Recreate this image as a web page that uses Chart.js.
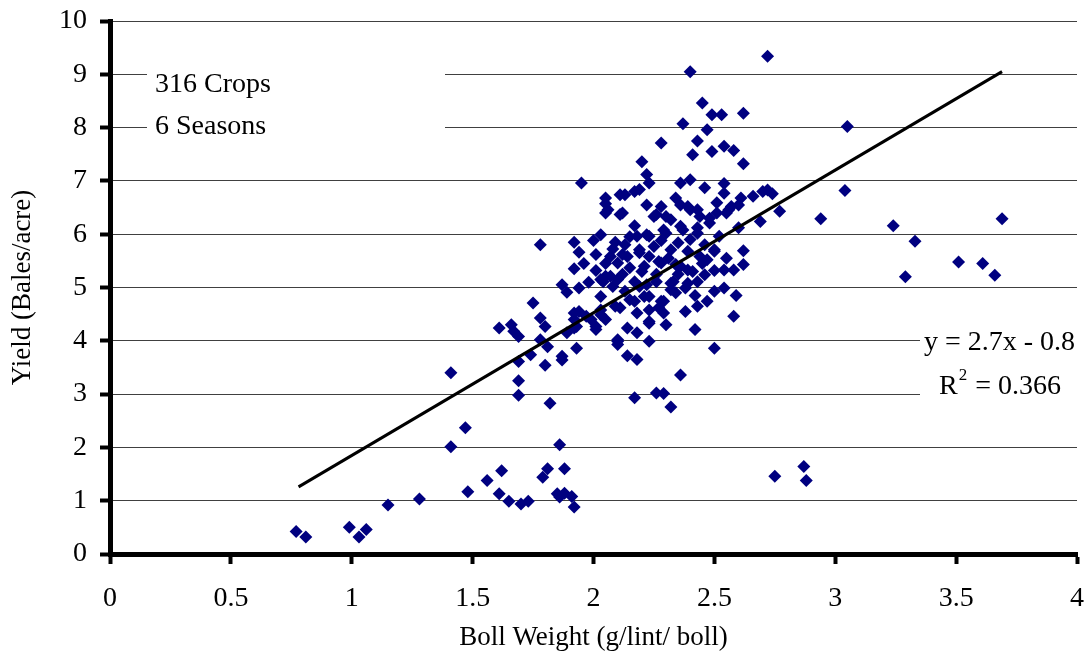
<!DOCTYPE html>
<html>
<head>
<meta charset="utf-8">
<title>Boll weight vs yield</title>
<script src="https://cdn.jsdelivr.net/npm/chart.js@4.4.1/dist/chart.umd.min.js"></script>
<style>
  html, body { margin: 0; padding: 0; background: #ffffff; }
  #wrap { width: 1091px; height: 657px; }
</style>
</head>
<body>
<div id="wrap"><canvas id="scatterChart" width="1091" height="657"></canvas></div>
<script>
// boll weight (g lint / boll) vs yield (bales / acre)
const cropPoints = [
  // low yield crops
  [0.77,0.42],[0.81,0.32],[0.99,0.50],[1.03,0.32],[1.06,0.46],[1.15,0.92],[1.28,1.03],
  [1.48,1.17],[1.56,1.38],[1.62,1.56],[1.61,1.13],[1.65,0.99],[1.70,0.94],[1.73,0.99],
  [1.79,1.44],[1.81,1.60],[1.86,2.05],[1.88,1.60],[1.85,1.13],[1.86,1.07],[1.88,1.14],
  [1.91,1.08],[1.92,0.88],[1.41,2.01],[1.47,2.37],[1.41,3.40],
  [2.75,1.46],[2.87,1.64],[2.88,1.38],
  // left side of the cloud
  [1.69,3.61],[1.69,3.25],[1.69,2.98],[1.80,3.54],[1.82,2.83],[1.87,3.64],
  [1.61,4.24],[1.66,4.30],[1.67,4.18],[1.69,4.08],[1.74,3.74],[1.78,4.02],[1.81,3.89],
  [1.75,4.71],[1.78,4.43],[1.80,4.27],[1.78,5.80],[1.87,3.71],[1.93,3.86],
  [1.87,5.05],[1.89,4.91],[1.94,4.99],[1.89,4.15],[1.93,4.27],[1.92,4.40],[1.92,4.52],
  [1.94,4.55],[1.97,4.46],[1.92,5.35],[1.96,5.45],[1.92,5.85],[1.94,5.66],[1.95,6.96],
  [2.00,5.88],[2.03,5.99],[2.01,5.32],[2.03,5.15],[2.03,4.83],[2.01,4.27],[2.03,4.58],
  [2.01,4.21],[2.03,4.49],[1.99,4.40],[1.92,4.24],[1.98,5.10],[2.01,5.62],
  // dense core
  [2.05,6.68],[2.06,6.46],[2.05,6.57],[2.11,6.74],[2.11,6.37],[2.05,6.40],
  [2.08,5.72],[2.05,5.45],[2.07,5.21],[2.05,4.40],[2.10,3.93],[2.04,5.11],[2.08,5.02],
  [2.10,5.46],[2.14,5.58],[2.13,5.80],[2.07,5.58],[2.12,5.62],[2.09,5.85],[2.15,5.95],
  [2.13,6.74],[2.17,6.80],[2.19,6.84],[2.12,6.40],[2.17,6.16],
  [2.20,7.36],[2.22,7.12],[2.23,6.96],[2.22,6.55],[2.25,6.33],[2.26,6.37],[2.28,6.52],
  [2.30,6.33],[2.32,6.27],[2.34,6.68],[2.36,6.55],[2.39,6.52],[2.40,6.46],[2.43,6.46],
  [2.44,6.33],[2.48,6.30],[2.51,6.40],[2.51,6.59],[2.55,6.40],[2.56,6.46],[2.57,6.52],
  [2.60,6.55],[2.61,6.68],[2.66,6.71],[2.70,6.80],[2.69,6.24],[2.60,6.12],
  [2.22,5.99],[2.29,6.08],[2.36,6.15],[2.43,6.12],[2.48,6.21],[2.18,5.96],[2.23,5.96],
  [2.30,6.02],[2.37,6.08],[2.43,6.02],[2.52,5.96],[2.35,5.84],[2.28,5.88],[2.40,5.90],
  [2.46,5.80],
  [2.19,5.65],[2.23,5.58],[2.19,5.71],[2.25,5.77],[2.32,5.71],[2.39,5.68],[2.44,5.58],
  [2.50,5.71],[2.50,5.68],[2.62,5.69],[2.55,5.55],[2.31,5.55],
  [2.15,5.37],[2.21,5.40],[2.27,5.49],[2.28,5.46],[2.34,5.43],[2.36,5.40],[2.39,5.33],
  [2.41,5.30],[2.46,5.24],[2.50,5.32],[2.54,5.33],[2.58,5.33],[2.62,5.43],[2.45,5.45],
  [2.47,5.52],[2.26,5.25],[2.20,5.30],[2.35,5.25],[2.12,5.25],
  [2.05,5.21],[2.10,5.15],[2.17,5.11],[2.22,5.05],[2.26,5.11],[2.32,5.08],[2.33,5.11],
  [2.39,5.08],[2.38,4.99],[2.43,5.11],[2.13,4.93],[2.19,5.02],[2.32,4.96],[2.34,4.90],
  [2.50,4.93],[2.54,4.99],[2.59,4.85],[2.42,4.85],
  [2.09,4.65],[2.11,4.62],[2.15,4.77],[2.17,4.74],[2.21,4.83],[2.23,4.83],[2.28,4.74],
  [2.29,4.74],[2.27,4.62],[2.43,4.65],[2.47,4.74],[2.38,4.55],[2.18,4.52],[2.23,4.58],
  [2.29,4.52],[2.58,4.46],
  [2.14,4.24],[2.18,4.15],[2.23,4.33],[2.23,4.36],[2.30,4.30],[2.42,4.21],
  [2.10,4.02],[2.10,3.99],[2.23,3.99],[2.14,3.72],[2.18,3.65],[2.50,3.86],[2.36,3.36],
  [2.17,2.93],[2.26,3.02],[2.29,3.01],[2.32,2.76],
  // top of the cloud
  [2.40,9.05],[2.72,9.34],[2.45,8.46],[2.49,8.24],[2.53,8.24],[2.62,8.27],[2.37,8.07],
  [2.47,7.96],[2.28,7.71],[2.43,7.75],[2.41,7.49],[2.49,7.55],[2.54,7.65],[2.58,7.57],
  [2.62,7.32],[2.36,6.96],[2.40,7.02],[2.46,6.87],[2.54,6.95],[2.54,6.77],
  // heavy bolls
  [2.72,6.83],[2.74,6.76],[2.77,6.43],[2.94,6.29],[3.04,6.82],[3.05,8.02],[3.24,6.16],
  [3.33,5.87],[3.29,5.20],[3.51,5.48],[3.61,5.45],[3.66,5.23],[3.69,6.29]
];

// linear fit y = 2.7x - 0.8, drawn over the range of the data
const trendX = [0.78, 3.69];
const trendY = [1.26, 9.05];

const noteLines = ["316 Crops", "6 Seasons"];
const fitText = "y = 2.7x - 0.8";
const r2Value = "0.366";

const FONT = "'Liberation Serif', 'Times New Roman', serif";
const MARK = "#000080";

// white boxes behind the text, they hide the grid like in the original
const notesPlugin = {
  id: "notes",
  beforeDatasetsDraw(chart) {
    const ctx = chart.ctx;
    ctx.save();
    ctx.fillStyle = "#ffffff";
    ctx.fillRect(147, 62, 298, 80);
    ctx.fillRect(920, 322, 171, 88);

    ctx.fillStyle = "#000000";
    ctx.textBaseline = "middle";
    ctx.textAlign = "left";
    ctx.font = "28px " + FONT;
    ctx.fillText(noteLines[0], 155, 85);
    ctx.fillText(noteLines[1], 155, 127);

    ctx.fillText(fitText, 924, 343);
    ctx.fillText("R", 939, 387);
    let w = ctx.measureText("R").width;
    ctx.font = "17px " + FONT;
    ctx.fillText("2", 939 + w + 1, 376);
    let w2 = ctx.measureText("2").width;
    ctx.font = "28px " + FONT;
    ctx.fillText(" = " + r2Value, 939 + w + w2 + 2, 387);
    ctx.restore();
  }
};

const ctx = document.getElementById("scatterChart");
new Chart(ctx, {
  type: "scatter",
  data: {
    datasets: [
      {
        label: "Trend",
        type: "line",
        data: trendX.map((x, i) => ({ x: x, y: trendY[i] })),
        borderColor: "#000000",
        borderWidth: 3,
        pointRadius: 0,
        fill: false
      },
      {
        label: "Crops",
        data: cropPoints.map(p => ({ x: p[0], y: p[1] })),
        pointStyle: "rectRot",
        pointRadius: 6.5,
        pointBorderWidth: 0,
        backgroundColor: MARK,
        borderColor: MARK
      }
    ]
  },
  options: {
    responsive: false,
    animation: false,
    events: [],
    layout: { padding: { top: 21, right: 14, left: 0, bottom: 0 } },
    plugins: {
      legend: { display: false },
      tooltip: { enabled: false }
    },
    scales: {
      x: {
        type: "linear",
        min: 0,
        max: 4,
        afterFit: s => { s.height = 103; s.paddingLeft = 0; s.paddingRight = 0; },
        ticks: {
          stepSize: 0.5, color: "#000", padding: 18, maxRotation: 0,
          font: { family: FONT, size: 28 },
          callback: v => String(v)
        },
        grid: { drawOnChartArea: false, drawTicks: true, tickLength: 10, tickWidth: 4, tickColor: "#000" },
        border: { display: true, color: "#000", width: 5 },
        title: { display: true, text: "Boll Weight (g/lint/ boll)", color: "#000", font: { family: FONT, size: 27 }, padding: { top: 0, bottom: 3 } }
      },
      y: {
        min: 0,
        max: 10,
        afterFit: s => { s.width = 110; s.paddingTop = 0; s.paddingBottom = 0; },
        ticks: { stepSize: 1, color: "#000", padding: 13, font: { family: FONT, size: 28 } },
        grid: { drawOnChartArea: true, color: "#404040", lineWidth: 1, drawTicks: true, tickLength: 10, tickWidth: 4, tickColor: "#000" },
        border: { display: true, color: "#000", width: 5 },
        title: { display: true, text: "Yield (Bales/acre)", color: "#000", font: { family: FONT, size: 27 }, padding: { top: 7, bottom: 0 } }
      }
    }
  },
  plugins: [notesPlugin]
});
</script>
</body>
</html>
